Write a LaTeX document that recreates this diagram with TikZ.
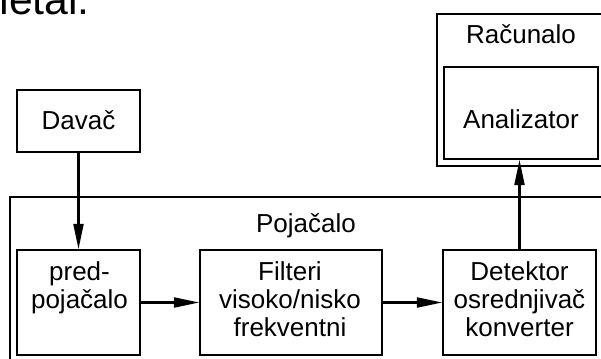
\documentclass[tikz,border=0pt]{standalone}
\usepackage{fontspec}
\setmainfont{Liberation Sans}
\usetikzlibrary{arrows.meta}

\tikzset{
  blok/.style={draw,rectangle,line width=1.2pt,inner sep=0pt},
  natpis/.style={align=center,inner sep=0pt,anchor=base,font=\fontsize{19.5pt}{21pt}\selectfont},
  strelica/.style={-{Triangle[length=19pt,width=7.5pt]},line width=1.6pt}
}

\begin{document}
\begin{tikzpicture}[x=0.75pt,y=-0.75pt]

  \useasboundingbox (0,0) rectangle (601,358);
  \clip (0,0) rectangle (601,358);

  \node[natpis,anchor=base east,font=\fontsize{32pt}{36pt}\selectfont] at (90,14) (metal) {metal.};

  \node[blok,minimum width=137.25pt,minimum height=114pt,line width=1.5pt] at (528.5,90) (racunalo) {};
  \node[natpis] at (521,43) (racunalo-t) {Računalo};
  \node[blok,minimum width=115.5pt,minimum height=69pt] at (521,113) (analizator) {};
  \node[natpis] at (521,128) (analizator-t) {Analizator};

  \node[blok,minimum width=92.25pt,minimum height=46.5pt] at (78.5,121) (davac) {};
  \node[natpis] at (78.5,129) (davac-t) {Davač};

  \node[blok,minimum width=457.5pt,minimum height=137.25pt] at (315,288.5) (pojacalo) {};
  \node[natpis] at (306,232) (pojacalo-t) {Pojačalo};

  \node[blok,minimum width=92.25pt,minimum height=78.75pt] at (78.5,302.5) (pred) {};
  \node[natpis] at (79.5,308) (pred-t) {pred-\\pojačalo};
  \node[blok,minimum width=136.5pt,minimum height=78.75pt] at (291,302.5) (filteri) {};
  \node[natpis] at (290,336) (filteri-t) {Filteri\\visoko/nisko\\frekventni};
  \node[blok,minimum width=114.75pt,minimum height=78.75pt] at (519.5,302.5) (detektor) {};
  \node[natpis] at (519.5,336) (detektor-t) {Detektor\\osrednjivač\\konverter};

  \draw[strelica] (davac) -- (pred);
  \draw[strelica] (pred) -- (filteri);
  \draw[strelica] (filteri) -- (detektor);
  \draw[strelica] (detektor.north) -- (detektor.north |- analizator.south);

\end{tikzpicture}
\end{document}
